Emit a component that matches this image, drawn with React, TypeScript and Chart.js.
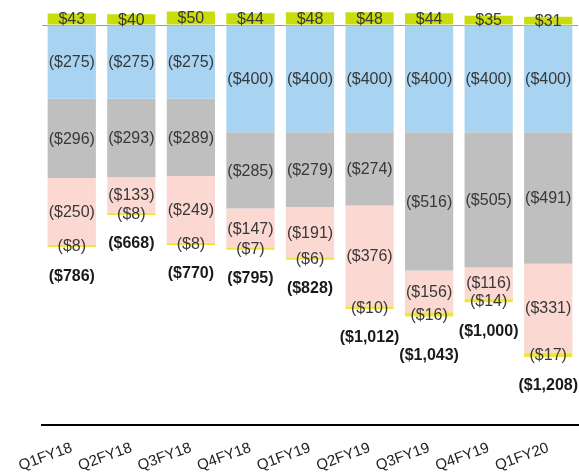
import React, { useEffect, useRef } from "react";
import { Chart, registerables } from "chart.js";

Chart.register(...registerables);

const categories = ["Q1FY18", "Q2FY18", "Q3FY18", "Q4FY18", "Q1FY19", "Q2FY19", "Q3FY19", "Q4FY19", "Q1FY20"];
const topValues = [43, 40, 50, 44, 48, 48, 44, 35, 31];
const blueValues = [-275, -275, -275, -400, -400, -400, -400, -400, -400];
const grayValues = [-296, -293, -289, -285, -279, -274, -516, -505, -491];
const pinkValues = [-250, -133, -249, -147, -191, -376, -156, -116, -331];
const yellowValues = [-8, -8, -8, -7, -6, -10, -16, -14, -17];
const totalLabels = ["($786)", "($668)", "($770)", "($795)", "($828)", "($1,012)", "($1,043)", "($1,000)", "($1,208)"];

const COLORS = {
  top: "#c9dd0c",
  blue: "#a8d4f2",
  gray: "#bfbfbf",
  pink: "#fcd8d3",
  yellow: "#f0e63a",
};

const FONT = '"Liberation Sans", Arial, sans-serif';

function fmt(v: number): string {
  const a = Math.abs(v).toLocaleString("en-US");
  return v < 0 ? `($${a})` : `$${a}`;
}

const labelPlugin = {
  id: "segLabels",
  afterDatasetsDraw(chart: any) {
    const ctx = chart.ctx;
    ctx.save();
    ctx.textAlign = "center";
    ctx.textBaseline = "middle";
    ctx.fillStyle = "#383838";
    ctx.font = `16px ${FONT}`;
    chart.data.datasets.forEach((ds: any, di: number) => {
      const meta = chart.getDatasetMeta(di);
      meta.data.forEach((el: any, i: number) => {
        const { x, y, base } = el.getProps(["x", "y", "base"], true);
        const cy = (y + base) / 2;
        ctx.fillText(fmt(ds.data[i]), x, cy + 1);
      });
    });
    // totals, pushed down when they would collide with the previous one
    const lastMeta = chart.getDatasetMeta(chart.data.datasets.length - 1);
    ctx.font = `bold 16px ${FONT}`;
    ctx.fillStyle = "#1a1a1a";
    let prev: { l: number; r: number; y: number } | null = null;
    lastMeta.data.forEach((el: any, i: number) => {
      const { x, y } = el.getProps(["x", "y"], true);
      const w = ctx.measureText(totalLabels[i]).width;
      let ty = y + 29;
      const l = x - w / 2;
      const r = x + w / 2;
      if (prev && l < prev.r + 4 && Math.abs(ty - prev.y) < 18) {
        ty = prev.y + 18;
      }
      ctx.fillText(totalLabels[i], x, ty);
      prev = { l, r, y: ty };
    });
    ctx.restore();
  },
};

export default function App() {
  const ref = useRef<HTMLCanvasElement | null>(null);
  useEffect(() => {
    if (!ref.current) return;
    const chart = new Chart(ref.current, {
      type: "bar",
      data: {
        labels: categories,
        datasets: [
          { label: "top", data: topValues, backgroundColor: COLORS.top },
          { label: "blue", data: blueValues, backgroundColor: COLORS.blue },
          { label: "gray", data: grayValues, backgroundColor: COLORS.gray },
          { label: "pink", data: pinkValues, backgroundColor: COLORS.pink },
          { label: "yellow", data: yellowValues, backgroundColor: COLORS.yellow },
        ],
      },
      options: {
        animation: false,
        responsive: true,
        maintainAspectRatio: false,
        datasets: { bar: { categoryPercentage: 1, barPercentage: 0.81 } },
        layout: { padding: { left: 42, right: 1, top: 10, bottom: 0 } },
        plugins: { legend: { display: false }, tooltip: { enabled: false } },
        scales: {
          x: {
            stacked: true,
            grid: { display: false, drawTicks: false },
            border: { display: true, color: "#000000", width: 2 },
            ticks: {
              autoSkip: false,
              minRotation: 20,
              maxRotation: 20,
              padding: 14,
              color: "#222222",
              font: { family: FONT, size: 15 },
            },
            afterFit: (scale: any) => {
              scale.height = 48;
            },
          },
          y: {
            stacked: true,
            min: -1493,
            max: 56,
            z: 1,
            ticks: { display: false },
            border: { display: false },
            grid: {
              drawTicks: false,
              lineWidth: 1,
              color: (c: any) => (c.tick && c.tick.value === 0 ? "#9a9a9a" : "rgba(0,0,0,0)"),
            },
            afterBuildTicks: (scale: any) => {
              scale.ticks = [{ value: 0 }];
            },
            afterFit: (scale: any) => {
              scale.width = 0;
            },
          },
        },
      },
      plugins: [labelPlugin],
    });
    return () => chart.destroy();
  }, []);
  return (
    <div style={{ position: "fixed", left: 0, top: 0, width: 579, height: 473, background: "#ffffff" }}>
      <canvas ref={ref} />
    </div>
  );
}
